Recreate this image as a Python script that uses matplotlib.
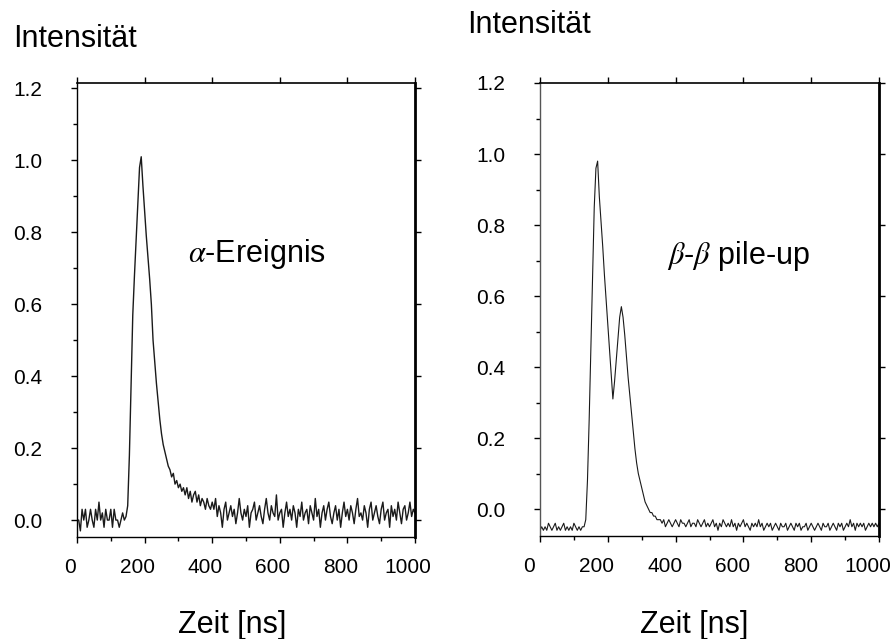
import matplotlib
matplotlib.use("Agg")
import matplotlib.pyplot as plt
import matplotlib.transforms as mtransforms
import numpy as np
from matplotlib.ticker import MultipleLocator

plt.rcParams['font.family'] = ['Liberation Sans', 'DejaVu Sans']
plt.rcParams['mathtext.fontset'] = 'stix'

# time axis, 5 ns per sample
t = np.arange(0, 1001, 5)

# alpha event (left)
alpha_base = [0.00, 0.00, -0.03, 0.03, 0.00, 0.03, -0.02, 0.00, 0.03, 0.00,
              -0.02, 0.03, 0.00, 0.05, 0.00, 0.02, -0.02, 0.03, 0.00, 0.00,
              0.03, -0.02, 0.03, 0.00, 0.00, -0.02, 0.00, 0.02, 0.00]
alpha_pulse = [0.01, 0.04, 0.18, 0.38, 0.57, 0.68, 0.78, 0.88, 0.98, 1.01,
               0.93, 0.86, 0.79, 0.73, 0.67, 0.60, 0.50, 0.44, 0.38, 0.33,
               0.28, 0.24, 0.21, 0.19, 0.17, 0.15, 0.14, 0.12, 0.13, 0.10,
               0.11, 0.09, 0.10, 0.08, 0.09, 0.07, 0.09, 0.06, 0.08, 0.05,
               0.07, 0.08, 0.05, 0.07, 0.04, 0.06, 0.05, 0.03, 0.06, 0.04,
               0.03, 0.05]
alpha_tail = [0.03, 0.06, 0.01, 0.04, 0.02, -0.02, 0.03, 0.05, 0.00, 0.02,
              0.04, 0.01, 0.03, -0.01, 0.02, 0.06, 0.02, 0.00, 0.03, 0.01,
              0.04, -0.02, 0.02, 0.03, 0.05, 0.00, 0.02, 0.04, 0.01, -0.01,
              0.03, 0.06, 0.02, 0.00, 0.04, 0.02, 0.01, 0.07, 0.00, 0.02,
              0.03, -0.02, 0.02, 0.05, 0.01, 0.03, 0.00, 0.04, 0.02, -0.02,
              0.03, 0.01, 0.05, 0.00, 0.02, 0.03, -0.01, 0.04, 0.02, 0.00,
              0.06, 0.01, 0.03, -0.02, 0.02, 0.04, 0.00, 0.03, 0.05, 0.01,
              -0.01, 0.02, 0.04, 0.00, 0.03, -0.02, 0.02, 0.05, 0.01, 0.03,
              0.00, 0.04, 0.02, -0.01, 0.03, 0.06, 0.01, 0.02, 0.00, 0.04,
              0.02, -0.02, 0.03, 0.05, 0.00, 0.02, 0.04, 0.01, -0.01, 0.03,
              0.05, 0.00, 0.02, 0.03, -0.02, 0.04, 0.01, 0.03, 0.00, 0.05,
              0.02, -0.01, 0.03, 0.04, 0.00, 0.02, 0.05, 0.01, 0.03, 0.02]
alpha_y = alpha_base + alpha_pulse + alpha_tail

# beta-beta pile-up (right)
beta_base = [-0.06, -0.05, -0.06, -0.05, -0.06, -0.04, -0.05, -0.06, -0.05, -0.04,
             -0.06, -0.05, -0.06, -0.05, -0.04, -0.06, -0.05, -0.06, -0.05, -0.06,
             -0.04, -0.05, -0.06, -0.05, -0.06, -0.05, -0.05]
beta_pulse = [-0.03, 0.08, 0.25, 0.45, 0.65, 0.85, 0.96, 0.98, 0.88, 0.81,
              0.74, 0.66, 0.59, 0.52, 0.45, 0.38, 0.31, 0.36, 0.42, 0.48,
              0.54, 0.57, 0.54, 0.49, 0.43, 0.37, 0.32, 0.27, 0.22, 0.17,
              0.13, 0.10, 0.08, 0.06, 0.04, 0.02, 0.01, 0.00, -0.01, -0.01,
              -0.02, -0.02, -0.03, -0.03]
beta_tail = [-0.03, -0.04, -0.03, -0.05, -0.04, -0.03, -0.04, -0.05, -0.04, -0.03,
             -0.04, -0.05, -0.03, -0.04, -0.04, -0.05, -0.04, -0.03, -0.05, -0.04,
             -0.04, -0.05, -0.03, -0.04, -0.05, -0.04, -0.03, -0.05, -0.04, -0.05,
             -0.04, -0.03, -0.05, -0.04, -0.06, -0.04, -0.05, -0.03, -0.04, -0.05,
             -0.04, -0.05, -0.03, -0.05, -0.04, -0.06, -0.04, -0.05, -0.04, -0.03,
             -0.05, -0.04, -0.05, -0.06, -0.04, -0.05, -0.04, -0.05, -0.03, -0.05,
             -0.04, -0.06, -0.05, -0.04, -0.05, -0.04, -0.06, -0.05, -0.04, -0.05,
             -0.06, -0.04, -0.05, -0.05, -0.04, -0.06, -0.05, -0.04, -0.05, -0.06,
             -0.04, -0.05, -0.04, -0.06, -0.05, -0.05, -0.04, -0.06, -0.05, -0.04,
             -0.05, -0.06, -0.05, -0.04, -0.05, -0.06, -0.04, -0.05, -0.05, -0.04,
             -0.06, -0.05, -0.04, -0.05, -0.06, -0.04, -0.05, -0.04, -0.06, -0.05,
             -0.04, -0.05, -0.03, -0.05, -0.04, -0.06, -0.04, -0.05, -0.04, -0.05,
             -0.04, -0.06, -0.05, -0.04, -0.05, -0.04, -0.05, -0.04, -0.05, -0.04]
beta_y = beta_base + beta_pulse + beta_tail

yticks = [0.0, 0.2, 0.4, 0.6, 0.8, 1.0, 1.2]
xticks = [0, 200, 400, 600, 800, 1000]

fig = plt.figure(figsize=(8.92, 6.39), dpi=100)

ax1 = fig.add_axes([77 / 892, 1 - 537 / 639, 338 / 892, 454 / 639])
ax2 = fig.add_axes([540 / 892, 1 - 536 / 639, 339 / 892, 453 / 639])


def style_axes(ax, ylim, left_color, xlabel_shift):
    ax.set_xlim(0, 1000)
    ax.set_ylim(*ylim)
    ax.set_xticks(xticks)
    ax.set_yticks(yticks)
    ax.set_yticklabels([f"{v:.1f}" for v in yticks])
    ax.xaxis.set_minor_locator(MultipleLocator(100))
    ax.yaxis.set_minor_locator(MultipleLocator(0.1))
    ax.tick_params(which='both', direction='out', top=True, right=True,
                   labelsize=15, width=1.0, color='black')
    ax.tick_params(axis='y', which='major', length=4, pad=21)
    ax.tick_params(axis='x', which='major', length=4, pad=11)
    ax.tick_params(which='minor', length=3, top=False, right=False)
    ax.spines['left'].set_linewidth(1.0)
    ax.spines['left'].set_color(left_color)
    ax.spines['right'].set_linewidth(2.0)
    ax.spines['top'].set_linewidth(1.2)
    ax.spines['bottom'].set_linewidth(1.0)
    # x labels sit a little left of their ticks in the original
    shift = mtransforms.ScaledTranslation(xlabel_shift / 100, 0, fig.dpi_scale_trans)
    for lab in ax.get_xticklabels():
        lab.set_transform(lab.get_transform() + shift)


# Left: alpha event
ax1.plot(t, alpha_y, color='#1a1a1a', linewidth=1.0)
style_axes(ax1, (-0.047, 1.215), 'black', -7)
ax1.text(328, 0.717, r'$\alpha$-Ereignis', fontsize=22, va='baseline')

# Right: beta-beta pile-up
ax2.plot(t, beta_y, color='#1a1a1a', linewidth=0.8)
style_axes(ax2, (-0.076, 1.197), '#555555', -11)
ax2.text(375, 0.69, r'$\beta$-$\beta$ pile-up', fontsize=22, va='baseline')

fig.text(13 / 892, 1 - 47 / 639, 'Intensität', fontsize=22, va='baseline')
fig.text(467 / 892, 1 - 33 / 639, 'Intensität', fontsize=22, va='baseline')
fig.text(232 / 892, 1 - 633 / 639, 'Zeit [ns]', fontsize=22, ha='center', va='baseline')
fig.text(694 / 892, 1 - 633 / 639, 'Zeit [ns]', fontsize=22, ha='center', va='baseline')

fig.savefig('out.png', dpi=100)
